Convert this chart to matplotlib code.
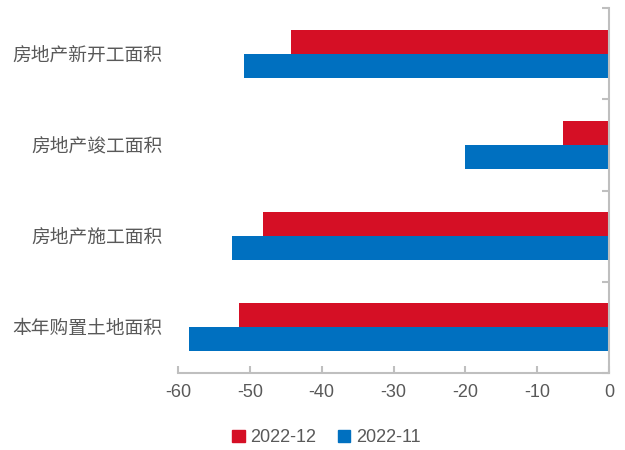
import matplotlib
matplotlib.use("Agg")
import matplotlib.pyplot as plt
import numpy as np
from matplotlib.patches import Patch

plt.rcParams['font.family'] = ['Liberation Sans', 'Noto Sans CJK SC', 'DejaVu Sans']

categories = ["房地产新开工面积", "房地产竣工面积", "房地产施工面积", "本年购置土地面积"]
dec_2022 = [-44.2, -6.4, -48.2, -51.5]
nov_2022 = [-50.8, -20.1, -52.5, -58.4]
series_names = ["2022-12", "2022-11"]
colors = ["#D50F25", "#0070C0"]
xticks = [-60, -50, -40, -30, -20, -10, 0]

fig = plt.figure(figsize=(6.25, 4.5), dpi=100)
ax = fig.add_axes([0.2848, 0.1711, 0.6896, 0.8111])

y = np.arange(len(categories))
h = 0.262
ax.barh(y - h / 2, dec_2022, height=h, color=colors[0], label=series_names[0])
ax.barh(y + h / 2, nov_2022, height=h, color=colors[1], label=series_names[1])

ax.set_xlim(-60, 0)
ax.set_ylim(len(categories) - 0.5, -0.5)

grey = "#BFBFBF"
txt = "#595959"
for s in ["top", "left"]:
    ax.spines[s].set_visible(False)
ax.spines["right"].set_color(grey)
ax.spines["bottom"].set_color(grey)
ax.spines["right"].set_linewidth(1.5)
ax.spines["bottom"].set_linewidth(1.5)

ax.set_xticks(xticks)
ax.set_xticklabels([str(v) for v in xticks])
ax.tick_params(axis="x", direction="in", length=5, width=1.5, color=grey,
               labelsize=13, labelcolor=txt, pad=8)

ax.set_yticks(y)
ax.set_yticklabels(categories)
ax.tick_params(axis="y", which="major", length=0, labelsize=13.5, labelcolor=txt, pad=11)
ax.set_yticks(np.arange(len(categories) + 1) - 0.5, minor=True)
ax.tick_params(axis="y", which="minor", direction="in", length=5, width=1.5, color=grey,
               left=False, right=True)

handles = [Patch(color=colors[0]), Patch(color=colors[1])]
fig.legend(handles, series_names, loc="center", bbox_to_anchor=(0.522, 0.027),
           ncol=2, frameon=False, fontsize=13, labelcolor=txt,
           handlelength=0.7, handleheight=0.7, handletextpad=0.3, columnspacing=1.2)

fig.savefig("out.png", dpi=100)
